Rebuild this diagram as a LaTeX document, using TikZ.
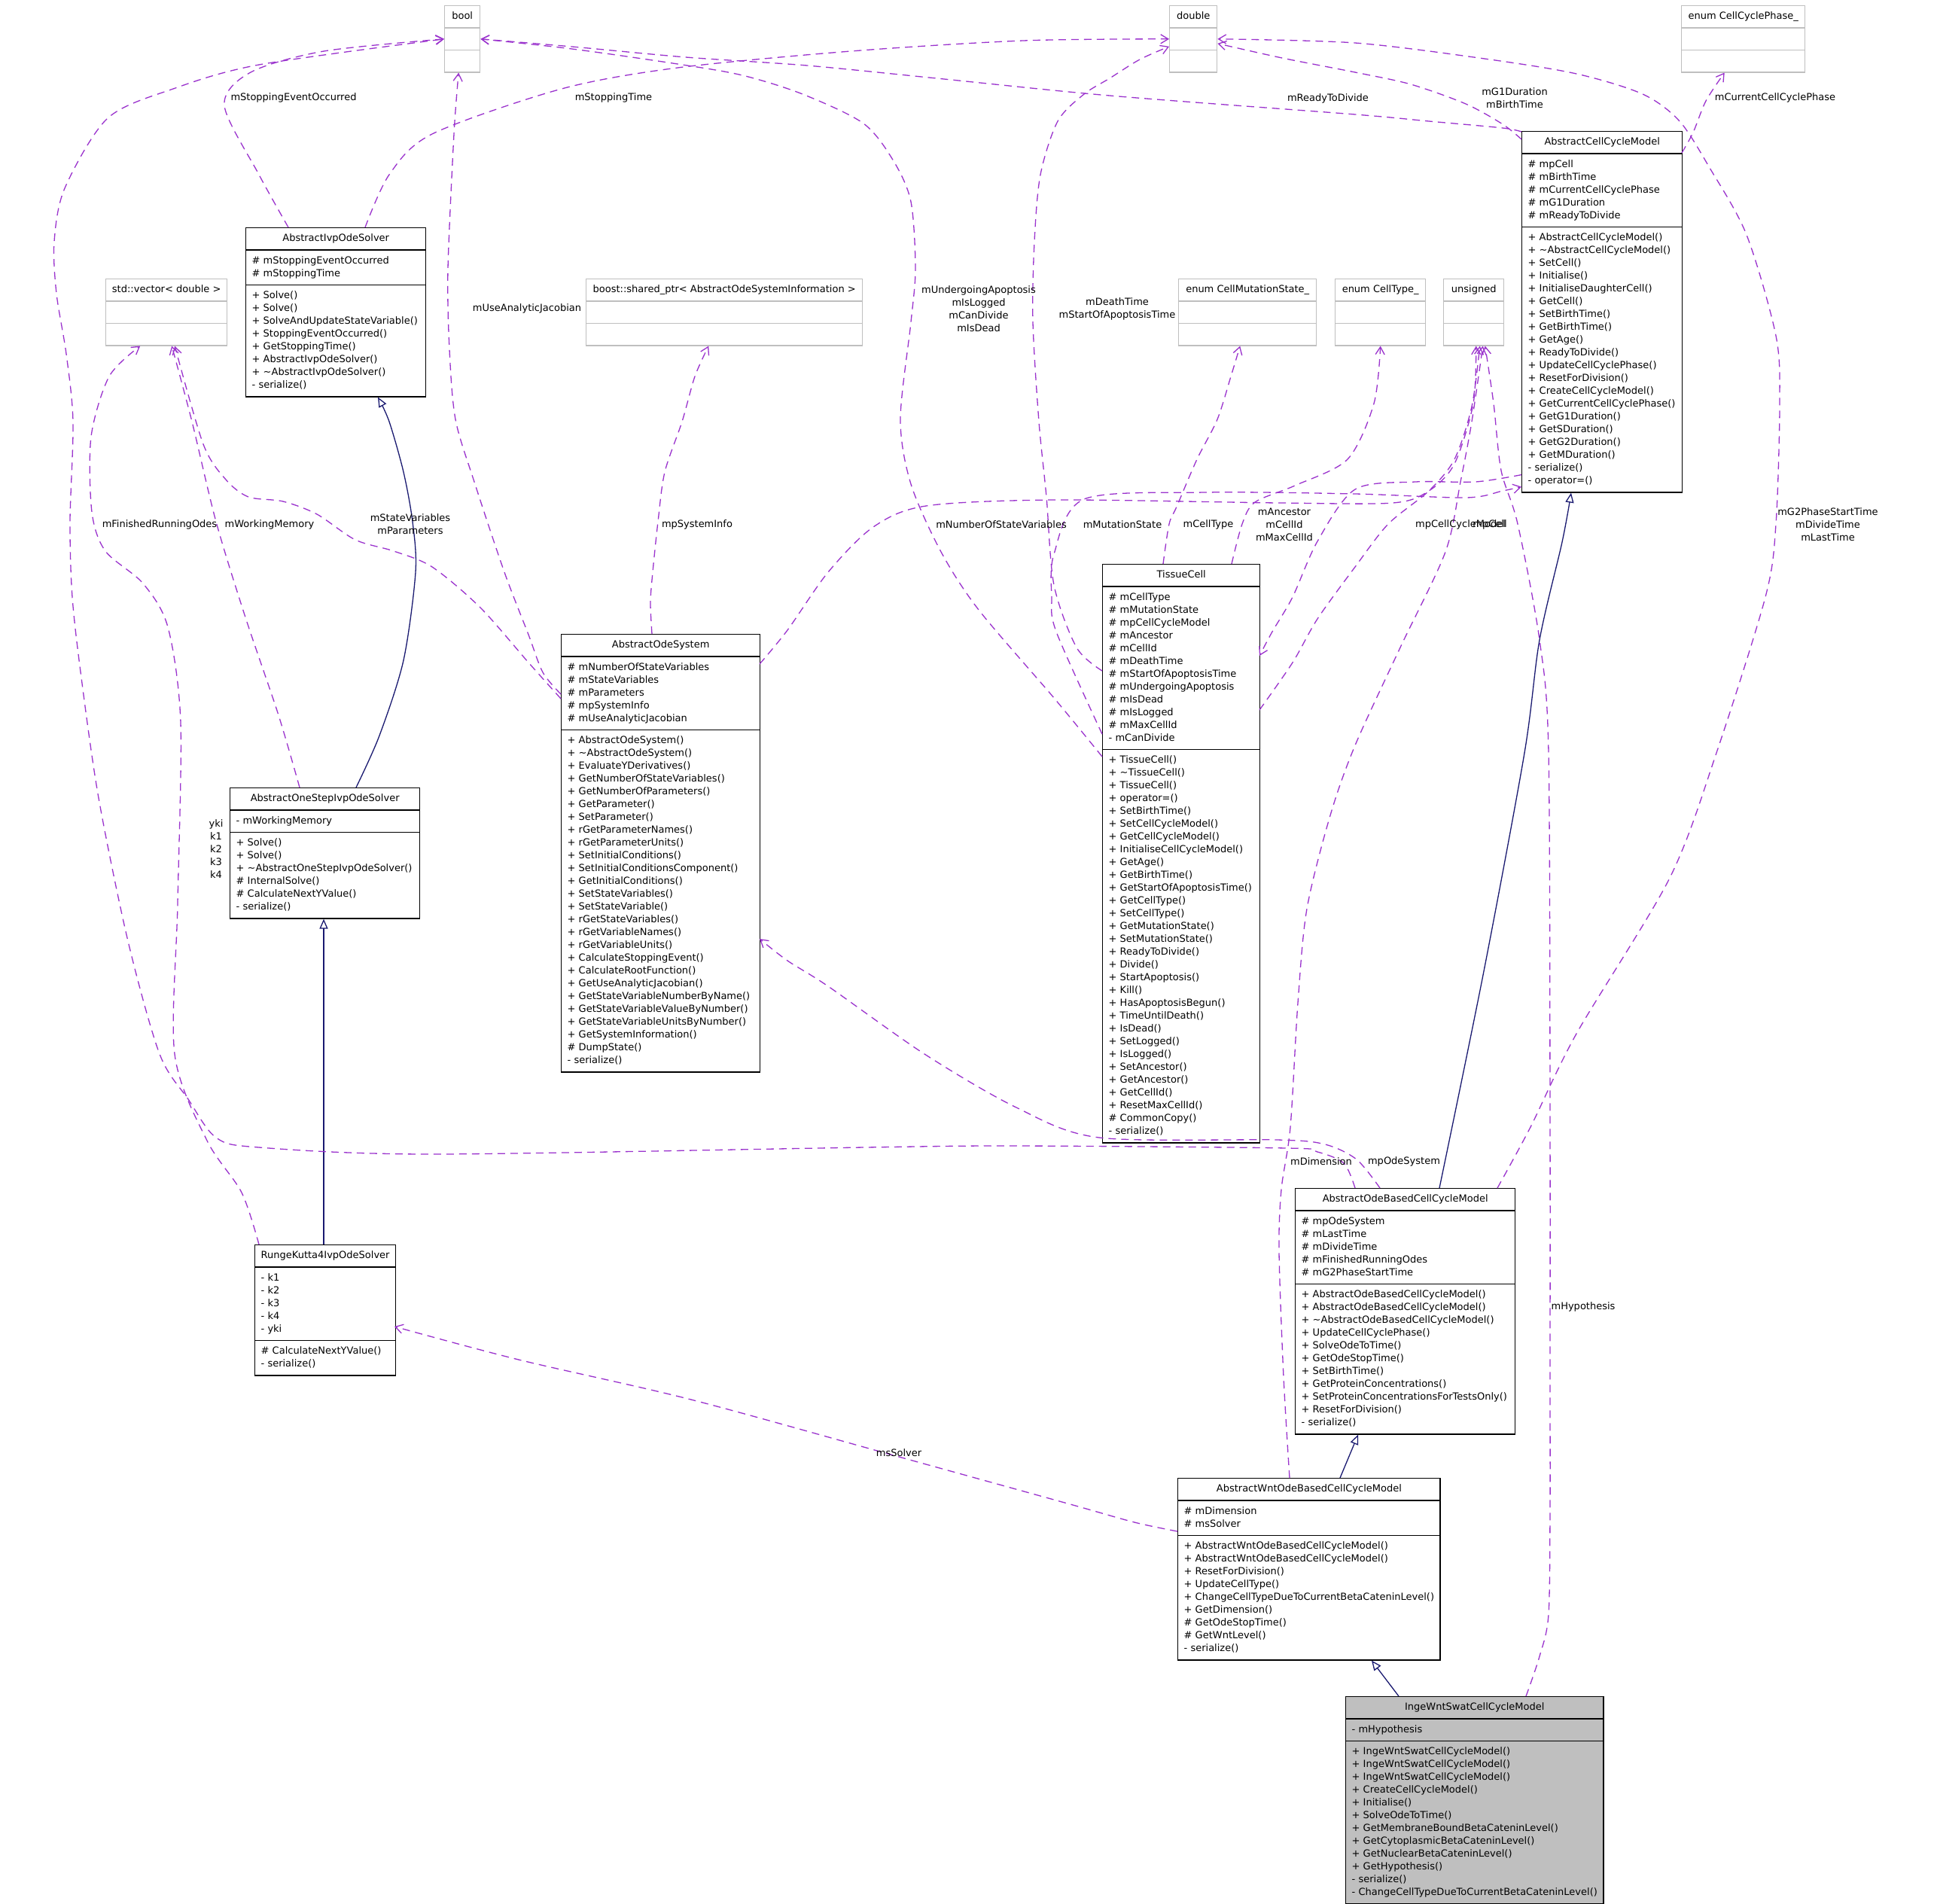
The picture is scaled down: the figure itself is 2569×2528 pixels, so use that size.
\documentclass[tikz,border=0pt]{standalone}
\usepackage{fontspec}
\setmainfont{DejaVu Sans}
\usetikzlibrary{shapes.multipart}
\usetikzlibrary{arrows.meta}
\definecolor{depcol}{HTML}{9A32CD}
\definecolor{inhcol}{HTML}{191970}
\definecolor{extgray}{HTML}{BFBFBF}
\newcommand\umlfont{\fontsize{13}{17}\selectfont}

\begin{document}
\begin{tikzpicture}[x=1pt,y=-1pt,
  cls/.style={rectangle split, rectangle split parts=3, rectangle split part align={center,left,left},
    draw=black, line width=1.4pt, align=left, font=\umlfont, inner xsep=8pt, inner ysep=5.5pt, anchor=north west},
  ext/.style={cls, draw=extgray},
  dep/.style={draw=depcol, line width=1.3pt, dash pattern=on 10pt off 7pt, -{Straight Barb[length=10pt,width=12pt]}},
  inh/.style={draw=inhcol, line width=1.3pt, -{Triangle[length=13pt,width=11pt,fill=white]}},
  lbl/.style={font=\umlfont, align=center, inner sep=0pt}]
\useasboundingbox[fill=white] (0,0) rectangle (2569,2528);

% types used by the members
\node[ext, minimum width=47pt] (bool) at (590,7) {\strut bool\nodepart{two}\strut\nodepart{three}\strut};
\node[ext, minimum width=63pt] (double) at (1553,7) {\strut double\nodepart{two}\strut\nodepart{three}\strut};
\node[ext, minimum width=164pt] (ccp) at (2233,7) {\strut enum CellCyclePhase\_\nodepart{two}\strut\nodepart{three}\strut};
\node[ext, minimum width=161pt] (vec) at (140,370) {\strut std::vector< double >\nodepart{two}\strut\nodepart{three}\strut};
\node[ext, minimum width=367pt] (boost) at (778,370) {\strut boost::shared\_ptr< AbstractOdeSystemInformation >\nodepart{two}\strut\nodepart{three}\strut};
\node[ext, minimum width=183pt] (cms) at (1565,370) {\strut enum CellMutationState\_\nodepart{two}\strut\nodepart{three}\strut};
\node[ext, minimum width=120pt] (ct) at (1773,370) {\strut enum CellType\_\nodepart{two}\strut\nodepart{three}\strut};
\node[ext, minimum width=80pt] (unsigned) at (1917,370) {\strut unsigned\nodepart{two}\strut\nodepart{three}\strut};

% classes
\node[cls, minimum width=239pt] (ivp) at (326,302) {\strut AbstractIvpOdeSolver
\nodepart{two}\strut\# mStoppingEventOccurred\\\# mStoppingTime\strut
\nodepart{three}\strut+ Solve()\\+ Solve()\\+ SolveAndUpdateStateVariable()\\+ StoppingEventOccurred()\\+ GetStoppingTime()\\+ AbstractIvpOdeSolver()\\+ \textasciitilde{}AbstractIvpOdeSolver()\\- serialize()\strut};

\node[cls, minimum width=252pt] (osv) at (305,1046) {\strut AbstractOneStepIvpOdeSolver
\nodepart{two}\strut- mWorkingMemory\strut
\nodepart{three}\strut+ Solve()\\+ Solve()\\+ \textasciitilde{}AbstractOneStepIvpOdeSolver()\\\# InternalSolve()\\\# CalculateNextYValue()\\- serialize()\strut};

\node[cls, minimum width=186pt] (rk) at (338,1653) {\strut RungeKutta4IvpOdeSolver
\nodepart{two}\strut- k1\\- k2\\- k3\\- k4\\- yki\strut
\nodepart{three}\strut\# CalculateNextYValue()\\- serialize()\strut};

\node[cls, minimum width=264pt] (aos) at (745,842) {\strut AbstractOdeSystem
\nodepart{two}\strut\# mNumberOfStateVariables\\\# mStateVariables\\\# mParameters\\\# mpSystemInfo\\\# mUseAnalyticJacobian\strut
\nodepart{three}\strut+ AbstractOdeSystem()\\+ \textasciitilde{}AbstractOdeSystem()\\+ EvaluateYDerivatives()\\+ GetNumberOfStateVariables()\\+ GetNumberOfParameters()\\+ GetParameter()\\+ SetParameter()\\+ rGetParameterNames()\\+ rGetParameterUnits()\\+ SetInitialConditions()\\+ SetInitialConditionsComponent()\\+ GetInitialConditions()\\+ SetStateVariables()\\+ SetStateVariable()\\+ rGetStateVariables()\\+ rGetVariableNames()\\+ rGetVariableUnits()\\+ CalculateStoppingEvent()\\+ CalculateRootFunction()\\+ GetUseAnalyticJacobian()\\+ GetStateVariableNumberByName()\\+ GetStateVariableValueByNumber()\\+ GetStateVariableUnitsByNumber()\\+ GetSystemInformation()\\\# DumpState()\\- serialize()\strut};

\node[cls, minimum width=209pt] (tc) at (1464,749) {\strut TissueCell
\nodepart{two}\strut\# mCellType\\\# mMutationState\\\# mpCellCycleModel\\\# mAncestor\\\# mCellId\\\# mDeathTime\\\# mStartOfApoptosisTime\\\# mUndergoingApoptosis\\\# mIsDead\\\# mIsLogged\\\# mMaxCellId\\- mCanDivide\strut
\nodepart{three}\strut+ TissueCell()\\+ \textasciitilde{}TissueCell()\\+ TissueCell()\\+ operator=()\\+ SetBirthTime()\\+ SetCellCycleModel()\\+ GetCellCycleModel()\\+ InitialiseCellCycleModel()\\+ GetAge()\\+ GetBirthTime()\\+ GetStartOfApoptosisTime()\\+ GetCellType()\\+ SetCellType()\\+ GetMutationState()\\+ SetMutationState()\\+ ReadyToDivide()\\+ Divide()\\+ StartApoptosis()\\+ Kill()\\+ HasApoptosisBegun()\\+ TimeUntilDeath()\\+ IsDead()\\+ SetLogged()\\+ IsLogged()\\+ SetAncestor()\\+ GetAncestor()\\+ GetCellId()\\+ ResetMaxCellId()\\\# CommonCopy()\\- serialize()\strut};

\node[cls, minimum width=213pt] (acm) at (2021,174) {\strut AbstractCellCycleModel
\nodepart{two}\strut\# mpCell\\\# mBirthTime\\\# mCurrentCellCyclePhase\\\# mG1Duration\\\# mReadyToDivide\strut
\nodepart{three}\strut+ AbstractCellCycleModel()\\+ \textasciitilde{}AbstractCellCycleModel()\\+ SetCell()\\+ Initialise()\\+ InitialiseDaughterCell()\\+ GetCell()\\+ SetBirthTime()\\+ GetBirthTime()\\+ GetAge()\\+ ReadyToDivide()\\+ UpdateCellCyclePhase()\\+ ResetForDivision()\\+ CreateCellCycleModel()\\+ GetCurrentCellCyclePhase()\\+ GetG1Duration()\\+ GetSDuration()\\+ GetG2Duration()\\+ GetMDuration()\\- serialize()\\- operator=()\strut};

\node[cls, minimum width=292pt] (obm) at (1720,1578) {\strut AbstractOdeBasedCellCycleModel
\nodepart{two}\strut\# mpOdeSystem\\\# mLastTime\\\# mDivideTime\\\# mFinishedRunningOdes\\\# mG2PhaseStartTime\strut
\nodepart{three}\strut+ AbstractOdeBasedCellCycleModel()\\+ AbstractOdeBasedCellCycleModel()\\+ \textasciitilde{}AbstractOdeBasedCellCycleModel()\\+ UpdateCellCyclePhase()\\+ SolveOdeToTime()\\+ GetOdeStopTime()\\+ SetBirthTime()\\+ GetProteinConcentrations()\\+ SetProteinConcentrationsForTestsOnly()\\+ ResetForDivision()\\- serialize()\strut};

\node[cls, minimum width=345pt] (awm) at (1564,1963) {\strut AbstractWntOdeBasedCellCycleModel
\nodepart{two}\strut\# mDimension\\\# msSolver\strut
\nodepart{three}\strut+ AbstractWntOdeBasedCellCycleModel()\\+ AbstractWntOdeBasedCellCycleModel()\\+ ResetForDivision()\\+ UpdateCellType()\\+ ChangeCellTypeDueToCurrentBetaCateninLevel()\\+ GetDimension()\\\# GetOdeStopTime()\\\# GetWntLevel()\\- serialize()\strut};

\node[cls, minimum width=341pt, fill=extgray] (iwm) at (1787,2253) {\strut IngeWntSwatCellCycleModel
\nodepart{two}\strut- mHypothesis\strut
\nodepart{three}\strut+ IngeWntSwatCellCycleModel()\\+ IngeWntSwatCellCycleModel()\\+ IngeWntSwatCellCycleModel()\\+ CreateCellCycleModel()\\+ Initialise()\\+ SolveOdeToTime()\\+ GetMembraneBoundBetaCateninLevel()\\+ GetCytoplasmicBetaCateninLevel()\\+ GetNuclearBetaCateninLevel()\\+ GetHypothesis()\\- serialize()\\- ChangeCellTypeDueToCurrentBetaCateninLevel()\strut};

% inheritance
\draw[inh] plot[smooth] coordinates {([xshift=168pt]osv.north west) (504,977) (536,877) (552,760) (548,693) (536,627) (517,560) ([xshift=176pt]ivp.south west)};
\draw[inh] ([xshift=92pt]rk.north west) -- ([xshift=125pt]osv.south west);
\draw[inh] plot[smooth] coordinates {([xshift=192pt]obm.north west) (1971,1290) (2025,1000) (2045,850) (2075,720) ([xshift=66pt]acm.south west)};
\draw[inh] ([xshift=216pt]awm.north west) -- ([xshift=84pt]obm.south west);
\draw[inh] ([xshift=71pt]iwm.north west) -- ([xshift=258pt]awm.south west);

% members
\draw[dep] plot[smooth] coordinates {([xshift=57pt]ivp.north west) (344,232) (298,140) (333,96) (430,68) (bool.west)};
\draw[dep] plot[smooth] coordinates {([xshift=159pt]ivp.north west) (517,232) (574,178) (746,118) (900,90) (1130,68) (1359,54) (double.west)};
\draw[dep] plot[smooth] coordinates {([xshift=93pt]osv.north west) (370,950) (326,820) (287,693) (255,560) ([xshift=7pt]vec.south)};
\draw[dep] plot[smooth] coordinates {([xshift=6pt]rk.north west) (321,1584) (275,1515) (232,1400) (236,1200) (240,960) (223,833) (190,775) (140,732) (122,680) (121,580) (145,500) ([xshift=-35pt]vec.south)};
\draw[dep] plot[smooth] coordinates {([yshift=-86pt]aos.north west) (702,880) (638,807) (574,753) (523,732) (472,717) (421,683) (376,666) (330,660) (300,637) (270,590) ([xshift=11pt]vec.south)};
\draw[dep] plot[smooth] coordinates {([yshift=-80pt]aos.north west) (721,893) (702,843) (670,760) (630,640) (605,557) (597,464) (595,357) (603,178) ([xshift=-5pt]bool.south)};
\draw[dep] plot[smooth] coordinates {([xshift=121pt]aos.north west) (864,800) (867,760) (874,693) (883,627) (906,560) (923,500) ([xshift=-21pt]boost.south)};
\draw[dep] plot[smooth] coordinates {([xshift=264pt,yshift=-40pt]aos.north west) (1046,837) (1100,760) (1160,700) (1230,672) (1400,664) (1700,668) (1850,668) (1898,652) (1932,616) (1957,536) ([xshift=3pt]unsigned.south)};
\draw[dep] plot[smooth] coordinates {([yshift=-256pt]tc.north west) (1400,927) (1300,810) (1250,733) (1210,643) (1196,557) (1210,428) (1216,357) (1210,268) (1187,214) (1147,164) (1066,125) (986,100) (900,85) (760,65) (bool.east)};
\draw[dep] plot[smooth] coordinates {([yshift=-142pt]tc.north west) (1430,860) (1400,777) (1390,660) (1380,560) (1372,428) (1374,321) (1382,232) (1405,161) (1440,125) (1474,104) (1514,79) ([yshift=-10pt]double.west)};
\draw[dep] plot[smooth] coordinates {([xshift=81pt]tc.north west) (1553,696) (1563,673) (1590,610) (1617,557) (1635,500) ([xshift=-10pt]cms.south)};
\draw[dep] plot[smooth] coordinates {([xshift=172pt]tc.north west) (1650,696) (1667,667) (1720,645) (1790,610) (1825,536) (ct.south)};
\draw[dep] plot[smooth] coordinates {([yshift=-226pt]tc.north west) (1403,839) (1397,793) (1400,736) (1440,663) (1600,654) (1800,656) (1947,661) (1996,652) ([yshift=8pt]acm.south west)};
\draw[dep] plot[smooth] coordinates {([xshift=209pt,yshift=-194pt]tc.north west) (1717,880) (1750,822) (1800,753) (1844,696) (1898,652) (1932,610) (1955,540) ([xshift=8pt]unsigned.south)};
\draw[dep] plot[smooth] coordinates {([yshift=24pt]acm.south west) (1960,640) (1880,640) (1800,650) (1750,719) (1717,793) (1690,839) ([xshift=209pt,yshift=-122pt]tc.north west)};
\draw[dep] plot[smooth] coordinates {([yshift=-1pt]acm.north west) (1996,170) (1898,161) (1800,152) (1474,127) (1244,104) (1072,87) (911,76) (760,62) (bool.east)};
\draw[dep] plot[smooth] coordinates {([yshift=-11pt]acm.north west) (1996,165) (1947,138) (1874,112) (1800,96) (1703,77) ([yshift=-6pt]double.east)};
\draw[dep] plot[smooth] coordinates {([xshift=213pt,yshift=-29pt]acm.north west) (2249,176) (2266,134) ([xshift=-25pt]ccp.south)};
\draw[dep] plot[smooth] coordinates {([xshift=113pt]obm.north west) (1802,1540) (1760,1520) (1697,1514) (1460,1511) (1350,1471) (1228,1400) (1100,1310) (1046,1276) ([xshift=264pt,yshift=-405pt]aos.north west)};
\draw[dep] plot[smooth] coordinates {([xshift=80pt]obm.north west) (1785,1545) (1750,1530) (1710,1525) (1350,1522) (1148,1524) (574,1533) (344,1524) (287,1511) (250,1460) (212,1400) (170,1250) (131,1060) (108,900) (96,793) (93,693) (97,560) (88,470) (75,390) (72,321) (86,250) (143,157) (230,118) (344,86) (bool.west)};
\draw[dep] plot[smooth] coordinates {([xshift=269pt]obm.north west) (2033,1497) (2094,1373) (2218,1166) (2280,1000) (2345,793) (2359,696) (2364,536) (2359,446) (2320,312) (2271,223) (2231,161) (2182,125) (2094,98) (1972,78) (1800,57) (double.east)};
\draw[dep] plot[smooth] coordinates {([yshift=-71pt]awm.north west) (1507,2022) (1418,1997) (1194,1935) (918,1859) (689,1806) ([xshift=186pt,yshift=-109pt]rk.north west)};
\draw[dep] plot[smooth] coordinates {([xshift=149pt]awm.north west) (1705,1829) (1699,1663) (1702,1580) (1714,1497) (1724,1332) (1736,1207) (1767,1083) (1800,990) (1860,860) (1920,733) (1940,640) (1955,560) ([xshift=12pt]unsigned.south)};
\draw[dep] plot[smooth] coordinates {([xshift=240pt]iwm.north west) (2045,2200) (2057,2144) (2059,2000) (2059,1829) (2059,1497) (2057,1000) (2045,850) (2016,696) (1994,625) (1984,536) ([xshift=15pt]unsigned.south)};

% member names
\node[lbl] (lStopEv) at (390,130) {mStoppingEventOccurred};
\node[lbl] (lStopT) at (815,130) {mStoppingTime};
\node[lbl] (lReady) at (1764,131) {mReadyToDivide};
\node[lbl] (lG1) at (2012,130) {mG1Duration\\mBirthTime};
\node[lbl] (lPhase) at (2358,130) {mCurrentCellCyclePhase};
\node[lbl] (lJac) at (700,410) {mUseAnalyticJacobian};
\node[lbl] (lApop) at (1300,410) {mUndergoingApoptosis\\mIsLogged\\mCanDivide\\mIsDead};
\node[lbl] (lDeath) at (1484,410) {mDeathTime\\mStartOfApoptosisTime};
\node[lbl] (lFin) at (212,697) {mFinishedRunningOdes};
\node[lbl] (lWork) at (358,697) {mWorkingMemory};
\node[lbl] (lState) at (545,696) {mStateVariables\\mParameters};
\node[lbl] (lInfo) at (926,697) {mpSystemInfo};
\node[lbl] (lNum) at (1330,697) {mNumberOfStateVariables};
\node[lbl] (lMut) at (1491,697) {mMutationState};
\node[lbl] (lType) at (1605,697) {mCellType};
\node[lbl] (lAnc) at (1706,697) {mAncestor\\mCellId\\mMaxCellId};
\node[lbl] (lCcm) at (1940,697) {mpCellCycleModel};
\node[lbl] (lCell) at (1979,697) {mpCell};
\node[lbl] (lG2) at (2428,697) {mG2PhaseStartTime\\mDivideTime\\mLastTime};
\node[lbl] (lYki) at (287,1128) {yki\\k1\\k2\\k3\\k4};
\node[lbl] (lDim) at (1755,1543) {mDimension};
\node[lbl] (lOde) at (1865,1543) {mpOdeSystem};
\node[lbl] (lHyp) at (2103,1736) {mHypothesis};
\node[lbl] (lSolver) at (1194,1930) {msSolver};

\end{tikzpicture}
\end{document}
